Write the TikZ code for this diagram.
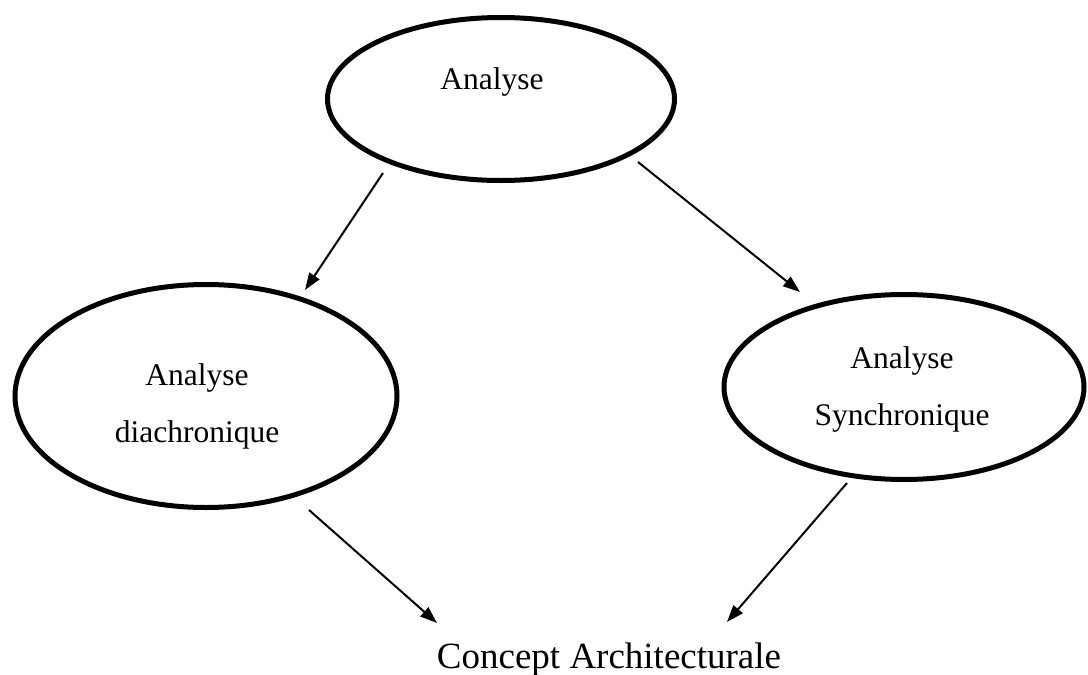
\documentclass[tikz,border=0pt]{standalone}
\usepackage{fontspec}
\setmainfont{Liberation Serif}
\usetikzlibrary{shapes.geometric,arrows.meta,calc}
\begin{document}
\begin{tikzpicture}[x=1pt,y=-1pt,
  oval/.style={draw,ellipse,line width=5pt,inner sep=0pt,outer sep=0pt},
  lbl/.style={font=\fontsize{31.5}{57}\selectfont,align=center,inner sep=0pt},
  big/.style={font=\fontsize{37}{44}\selectfont,inner sep=0pt},
  arr/.style={line width=2pt,-{Triangle[length=17pt,width=12pt]}}]
\useasboundingbox (0,0) rectangle (1088,675);
\node[oval,minimum width=347pt,minimum height=163pt] (a) at (501,99) {};
\node[oval,minimum width=382pt,minimum height=223pt] (d) at (206,396) {};
\node[oval,minimum width=360pt,minimum height=185pt] (s) at (904,387) {};
\node[lbl,anchor=base] (ta) at ($(a)+(-9,-10)$) {Analyse};
\node[lbl] (td) at ($(d)+(-9,10)$) {Analyse\\diachronique};
\node[lbl] (ts) at ($(s)+(-2,2)$) {Analyse\\Synchronique};
\node[big,anchor=base] (c) at (609,668) {Concept Architecturale};
\draw[arr] ($(a)+(-118,74)$) -- ($(d)+(99,-106)$);
\draw[arr] ($(a)+(137,63)$) -- ($(s)+(-104,-95)$);
\draw[arr] ($(d)+(103,114)$) -- ($(c.base)+(-172,-45)$);
\draw[arr] ($(s)+(-57,96)$) -- ($(c.base)+(118,-46)$);
\end{tikzpicture}
\end{document}
